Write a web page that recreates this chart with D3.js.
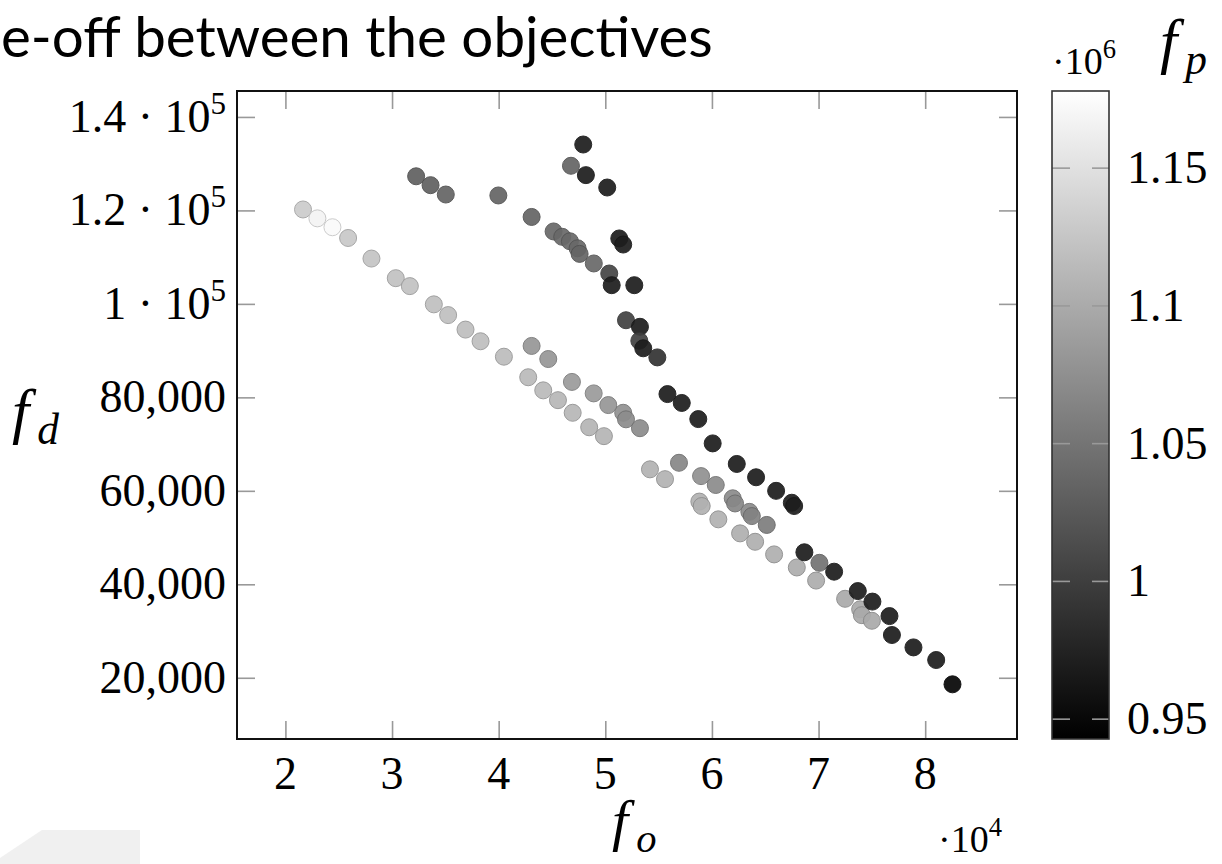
<!DOCTYPE html>
<html>
<head>
<meta charset="utf-8">
<script src="https://cdnjs.cloudflare.com/ajax/libs/d3/7.8.5/d3.min.js"></script>
<style>
  body { margin: 0; background: #fff; }
  svg { display: block; }
</style>
</head>
<body>
<div id="chart"></div>
<script>
var svgWidth = 1222;
var svgHeight = 864;

// plot frame in pixels
var frame = { left: 237, right: 1017, top: 91, bottom: 739 };
var bar = { left: 1052, right: 1109 };

// f_o in units of 10^4
var foValues = [
  2.165, 2.300, 2.441, 2.588, 2.807, 3.035, 3.167, 3.392, 3.526, 3.689, 3.830, 4.049, 4.277, 4.418, 4.556, 4.694,
  4.849, 4.987, 5.419, 5.560, 5.882, 5.904, 6.060, 6.264, 6.405, 6.583, 6.796, 6.977, 7.249, 7.390, 7.406, 7.500,
  4.309, 4.465, 4.687, 4.891, 5.028, 5.168, 5.194, 5.325, 5.691, 5.898, 6.036, 6.195, 6.217, 6.351, 6.374, 6.514, 7.008,
  3.226, 3.361, 3.504, 3.997, 4.309, 4.515, 4.596, 4.668, 4.740, 4.759, 4.892, 4.678, 5.037,
  4.793, 4.818, 5.018, 5.060, 5.131, 5.168, 5.272, 5.194, 5.325, 5.319, 5.356, 5.488, 5.583, 5.717, 5.872, 6.007,
  6.233, 6.414, 6.602, 6.749, 6.771, 6.867, 7.146, 7.368, 7.505, 7.665, 7.688, 7.890, 8.103, 8.256
];

// f_d
var fdValues = [
  120200, 118300, 116400, 114100, 109700, 105500, 103800, 99900, 97600, 94500, 92000, 88700, 84300, 81500, 79400, 76700,
  73600, 71700, 64600, 62500, 57700, 56750, 53900, 50900, 49100, 46400, 43600, 40800, 36900, 34650, 33400, 32200,
  91000, 88200, 83300, 80850, 78350, 76700, 75300, 73400, 66000, 63150, 61250, 58400, 57300, 55500, 54600, 52700, 44600,
  127300, 125400, 123400, 123200, 118600, 115500, 114350, 113400, 111900, 110700, 108650, 129550, 106500,
  134100, 127550, 124900, 104000, 114000, 112700, 104000, 96500, 95100, 92100, 90500, 88550, 80700, 78800, 75350, 70150,
  65750, 62900, 60000, 57450, 56750, 46850, 42700, 38550, 36300, 33200, 29150, 26500, 23800, 18600
];

// f_p in units of 10^6
var fpValues = [
  1.131, 1.168, 1.173, 1.127, 1.124, 1.122, 1.122, 1.120, 1.120, 1.118, 1.118, 1.116, 1.114, 1.114, 1.112, 1.112,
  1.110, 1.110, 1.108, 1.108, 1.106, 1.106, 1.106, 1.104, 1.104, 1.104, 1.102, 1.102, 1.100, 1.100, 1.100, 1.100,
  1.081, 1.081, 1.086, 1.086, 1.081, 1.077, 1.072, 1.072, 1.067, 1.077, 1.072, 1.072, 1.067, 1.072, 1.063, 1.058, 1.049,
  1.031, 1.031, 1.035, 1.035, 1.035, 1.040, 1.040, 1.040, 1.040, 1.035, 1.040, 1.035, 1.006,
  0.970, 0.970, 0.970, 0.970, 0.970, 0.970, 0.970, 1.003, 0.970, 1.003, 0.970, 0.989, 0.970, 0.970, 0.970, 0.970,
  0.970, 0.970, 0.970, 0.970, 0.970, 0.970, 0.970, 0.970, 0.970, 0.970, 0.970, 0.970, 0.970, 0.947
];

var xTicks = [2, 3, 4, 5, 6, 7, 8];
var yTicks = [20000, 40000, 60000, 80000, 100000, 120000, 140000];
var yTickLabels = [["20,000"], ["40,000"], ["60,000"], ["80,000"], ["1 · 10", "5"], ["1.2 · 10", "5"], ["1.4 · 10", "5"]];
var cTicks = [0.95, 1, 1.05, 1.1, 1.15];
var cTickLabels = ["0.95", "1", "1.05", "1.1", "1.15"];

var xDomain = [1.546, 8.861];
var yDomain = [6900, 145550];
var cDomain = [0.9428, 1.178];

var svg = d3.select("#chart")
  .append("svg")
  .attr("width", svgWidth)
  .attr("height", svgHeight);

// faint slide arrow in the corner
svg.append("path")
  .attr("d", "M0,864 L0,858 L42,830 L140,830 L140,864 Z")
  .attr("fill", "#f0f0f0");

// title (the slide crops its start)
var title = svg.append("text")
  .attr("x", 1)
  .attr("y", 44)
  .style("font-family", "Lato, 'Open Sans', sans-serif")
  .style("font-size", "50px")
  .attr("fill", "#000")
  .text("e-off between the objectives");
var tw = title.node().getComputedTextLength();
title.style("font-size", (50 * 712 / tw) + "px");
var tb = title.node().getBBox();
if (tb.y < 0) title.attr("y", 44 - tb.y + 0.5);

var x = d3.scaleLinear().domain(xDomain).range([frame.left, frame.right]);
var y = d3.scaleLinear().domain(yDomain).range([frame.bottom, frame.top]);
var color = d3.scaleLinear().domain(cDomain).range(["#000000", "#ffffff"]);
var cy = d3.scaleLinear().domain(cDomain).range([frame.bottom, frame.top]);

// tick marks on all four sides, pointing inward
function styleTicks(g) {
  g.select(".domain").remove();
  g.selectAll(".tick line").attr("stroke", "#999").attr("stroke-width", 1.6);
}

svg.append("g")
  .attr("transform", `translate(0, ${frame.bottom})`)
  .call(d3.axisBottom(x).tickValues(xTicks).tickSize(-18).tickFormat(""))
  .call(styleTicks);
svg.append("g")
  .attr("transform", `translate(0, ${frame.top})`)
  .call(d3.axisTop(x).tickValues(xTicks).tickSize(-18).tickFormat(""))
  .call(styleTicks);
svg.append("g")
  .attr("transform", `translate(${frame.left}, 0)`)
  .call(d3.axisLeft(y).tickValues(yTicks).tickSize(-18).tickFormat(""))
  .call(styleTicks);
svg.append("g")
  .attr("transform", `translate(${frame.right}, 0)`)
  .call(d3.axisRight(y).tickValues(yTicks).tickSize(-18).tickFormat(""))
  .call(styleTicks);

var serif = "'Liberation Serif', 'Times New Roman', serif";

// x tick labels
svg.append("g").selectAll("text")
  .data(xTicks)
  .enter()
  .append("text")
  .attr("x", d => x(d))
  .attr("y", 789)
  .attr("text-anchor", "middle")
  .style("font-family", serif)
  .style("font-size", "46px")
  .text(d => d);

// y tick labels
var yLab = svg.append("g").selectAll("text")
  .data(yTicks)
  .enter()
  .append("text")
  .attr("x", 226)
  .attr("y", d => y(d) + 15)
  .attr("text-anchor", "end")
  .style("font-family", serif)
  .style("font-size", "46px");
yLab.each(function(d, i) {
  var t = d3.select(this);
  var parts = yTickLabels[i];
  t.append("tspan").text(parts[0]);
  if (parts.length > 1) {
    t.append("tspan").attr("dy", -18).style("font-size", "31px").text(parts[1]);
  }
});

// scatter points
var pts = foValues.map((d, i) => ({ fo: d, fd: fdValues[i], fp: fpValues[i] }));
svg.append("g").selectAll("circle")
  .data(pts)
  .enter()
  .append("circle")
  .attr("cx", d => x(d.fo))
  .attr("cy", d => y(d.fd))
  .attr("r", 8.5)
  .attr("fill", d => color(d.fp))
  .attr("stroke", d => d3.interpolateRgb(color(d.fp), "#000")(0.2))
  .attr("stroke-width", 1)
  .attr("opacity", 0.92);

// plot frame
svg.append("rect")
  .attr("x", frame.left)
  .attr("y", frame.top)
  .attr("width", frame.right - frame.left)
  .attr("height", frame.bottom - frame.top)
  .attr("fill", "none")
  .attr("stroke", "#111")
  .attr("stroke-width", 2);

// colour bar
var grad = svg.append("defs").append("linearGradient")
  .attr("id", "cbar")
  .attr("x1", 0).attr("y1", 1).attr("x2", 0).attr("y2", 0);
grad.append("stop").attr("offset", "0%").attr("stop-color", color(cDomain[0]));
grad.append("stop").attr("offset", "100%").attr("stop-color", color(cDomain[1]));

svg.append("rect")
  .attr("x", bar.left)
  .attr("y", frame.top)
  .attr("width", bar.right - bar.left)
  .attr("height", frame.bottom - frame.top)
  .attr("fill", "url(#cbar)");

var cTickG = svg.append("g");
cTickG.selectAll("line.l")
  .data(cTicks)
  .enter()
  .append("line")
  .attr("x1", bar.left).attr("x2", bar.left + 18)
  .attr("y1", d => cy(d)).attr("y2", d => cy(d))
  .attr("stroke", "#999").attr("stroke-width", 1.6);
cTickG.selectAll("line.r")
  .data(cTicks)
  .enter()
  .append("line")
  .attr("x1", bar.right - 17).attr("x2", bar.right)
  .attr("y1", d => cy(d)).attr("y2", d => cy(d))
  .attr("stroke", "#999").attr("stroke-width", 1.6);

svg.append("rect")
  .attr("x", bar.left)
  .attr("y", frame.top)
  .attr("width", bar.right - bar.left)
  .attr("height", frame.bottom - frame.top)
  .attr("fill", "none")
  .attr("stroke", "#333")
  .attr("stroke-width", 1.6);

svg.append("g").selectAll("text")
  .data(cTicks)
  .enter()
  .append("text")
  .attr("x", 1127)
  .attr("y", d => cy(d) + 15)
  .style("font-family", serif)
  .style("font-size", "46px")
  .text((d, i) => cTickLabels[i]);

// scale markers
function scaleMark(px, py, exp, size) {
  var t = svg.append("text")
    .attr("x", px)
    .attr("y", py)
    .style("font-family", serif)
    .style("font-size", size + "px");
  t.append("tspan").text("·10");
  t.append("tspan").attr("dy", -size * 0.42).style("font-size", (size * 0.7) + "px").text(exp);
}
scaleMark(938, 852, "4", 38);
scaleMark(1052, 74, "6", 38);

// axis titles
function mathLabel(px, py, sub, size) {
  var t = svg.append("text")
    .attr("x", px)
    .attr("y", py)
    .style("font-family", serif)
    .style("font-style", "italic")
    .style("font-size", size + "px");
  t.append("tspan").text("f");
  t.append("tspan").attr("dx", 8).attr("dy", 12).style("font-size", (size * 0.7) + "px").text(sub);
}
mathLabel(12, 432, "d", 62);
mathLabel(612, 840, "o", 58);
mathLabel(1160, 62, "p", 62);
</script>
</body>
</html>
